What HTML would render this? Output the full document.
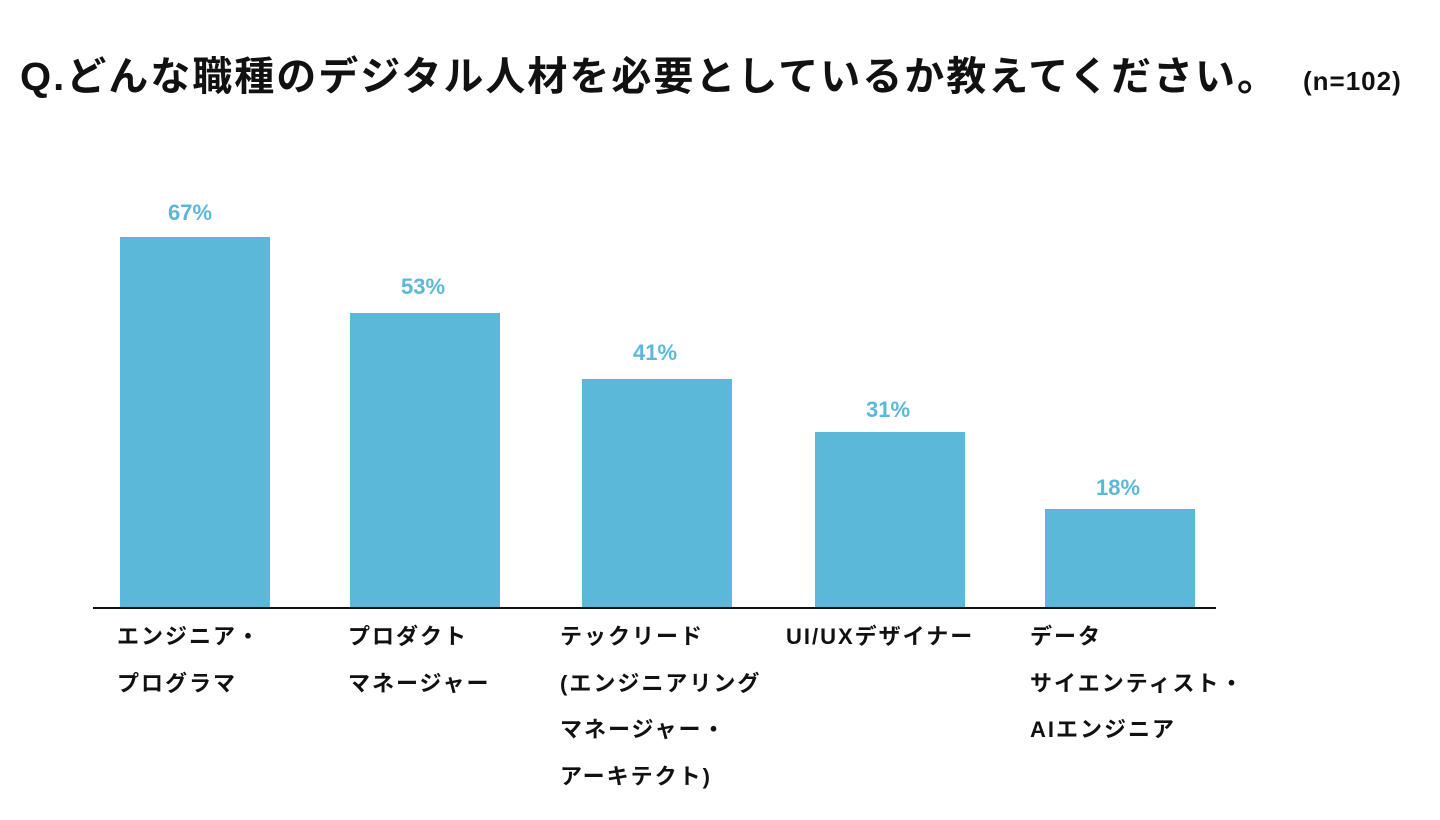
<!DOCTYPE html>
<html><head><meta charset="utf-8"><style>
body{margin:0;width:1440px;height:820px;background:#fff;position:relative;overflow:hidden;font-family:"Liberation Sans","Noto Sans CJK JP",sans-serif;color:#111}
.t{position:absolute;white-space:nowrap}
.bar{position:absolute;background:#5cb8d9;width:150px}
.p{position:absolute;width:150px;text-align:center;color:#5cb8d9;font-weight:bold;font-size:22px;line-height:24px}
.l{position:absolute;font-size:22px;letter-spacing:2px;font-weight:bold;line-height:46.5px;white-space:nowrap}
</style></head><body>
<div class="t" style="left:20px;top:51px;font-size:40px;letter-spacing:2px;font-weight:bold;line-height:52px">Q.どんな職種のデジタル人材を必要としているか教えてください。</div>
<div class="t" style="left:1303px;top:66px;font-size:26px;letter-spacing:1px;font-weight:bold;line-height:30px">(n=102)</div>
<div class="bar" style="left:120px;top:237px;height:371px"></div>
<div class="bar" style="left:350px;top:313px;height:295px"></div>
<div class="bar" style="left:582px;top:379px;height:229px"></div>
<div class="bar" style="left:815px;top:432px;height:176px"></div>
<div class="bar" style="left:1045px;top:509px;height:99px"></div>
<div class="p" style="left:115px;top:201px">67%</div>
<div class="p" style="left:348px;top:275px">53%</div>
<div class="p" style="left:580px;top:341px">41%</div>
<div class="p" style="left:813px;top:398px">31%</div>
<div class="p" style="left:1043px;top:476px">18%</div>
<div style="position:absolute;left:93px;top:607px;width:1123px;height:2px;background:#111"></div>
<div class="l" style="left:117px;top:614px">エンジニア・<br>プログラマ</div>
<div class="l" style="left:348px;top:614px">プロダクト<br>マネージャー</div>
<div class="l" style="left:560px;top:614px">テックリード<br>(エンジニアリング<br>マネージャー・<br>アーキテクト)</div>
<div class="l" style="left:786px;top:614px">UI/UXデザイナー</div>
<div class="l" style="left:1030px;top:614px">データ<br>サイエンティスト・<br>AIエンジニア</div>
</body></html>
